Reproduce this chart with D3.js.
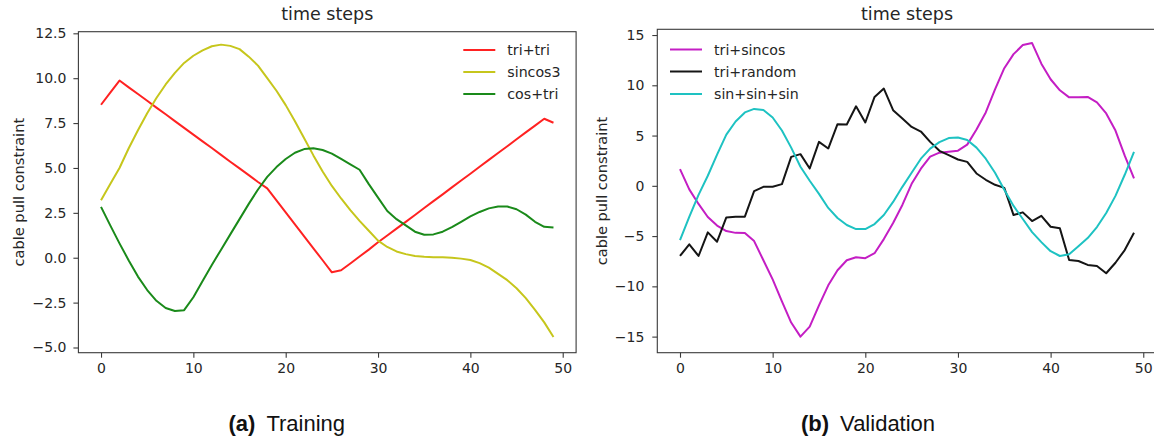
<!DOCTYPE html>
<html>
<head>
<meta charset="utf-8">
<script src="https://cdn.jsdelivr.net/npm/d3@7"></script>
<style>
  html, body { margin: 0; padding: 0; background: #fff; }
  svg { display: block; }
</style>
</head>
<body>
<svg id="chart" width="1154" height="439"></svg>
<script>
// ---------- data ----------
const xTicks = [0, 10, 20, 30, 40, 50];
const trainYTicks = [-5, -2.5, 0, 2.5, 5, 7.5, 10, 12.5];
const valYTicks = [-15, -10, -5, 0, 5, 10, 15];

const trainNames = ["tri+tri", "sincos3", "cos+tri"];
const valNames = ["tri+sincos", "tri+random", "sin+sin+sin"];

const triTri = [8.52, 9.2, 9.87, 9.49, 9.12, 8.74, 8.36, 7.99, 7.61, 7.23,
  6.86, 6.48, 6.11, 5.73, 5.35, 4.98, 4.60, 4.22, 3.86, 3.19,
  2.53, 1.86, 1.19, 0.52, -0.14, -0.81, -0.70, -0.32, 0.07, 0.45,
  0.86, 1.24, 1.62, 2.0, 2.38, 2.77, 3.15, 3.53, 3.92, 4.30,
  4.68, 5.07, 5.45, 5.83, 6.21, 6.60, 6.98, 7.36, 7.74, 7.52];

const sincos3 = [3.2, 4.1, 5.0, 6.1, 7.1, 8.05, 8.9, 9.65, 10.3, 10.85,
  11.25, 11.55, 11.78, 11.87, 11.8, 11.62, 11.2, 10.7, 10.0, 9.3,
  8.5, 7.6, 6.65, 5.7, 4.8, 4.0, 3.3, 2.65, 2.05, 1.5,
  0.95, 0.6, 0.35, 0.2, 0.1, 0.05, 0.03, 0.02, 0.0, -0.05,
  -0.13, -0.3, -0.55, -0.9, -1.25, -1.7, -2.25, -2.9, -3.6, -4.42];

const cosTri = [2.83, 1.8, 0.8, -0.15, -1.05, -1.8, -2.4, -2.8, -2.97, -2.92,
  -2.2, -1.3, -0.4, 0.45, 1.3, 2.15, 3.0, 3.8, 4.5, 5.05,
  5.5, 5.85, 6.05, 6.1, 6.0, 5.8, 5.5, 5.2, 4.9, 4.1,
  3.35, 2.6, 2.15, 1.8, 1.45, 1.28, 1.3, 1.45, 1.7, 2.0,
  2.3, 2.55, 2.75, 2.85, 2.85, 2.7, 2.4, 2.0, 1.72, 1.68];

const triSincos = [1.66, -0.35, -1.8, -3.1, -3.95, -4.5, -4.68, -4.7, -5.5, -7.4,
  -9.3, -11.5, -13.6, -15.0, -14.0, -11.9, -9.9, -8.4, -7.4, -7.1,
  -7.2, -6.7, -5.3, -3.7, -1.9, 0.2, 1.7, 2.9, 3.3, 3.4,
  3.5, 4.1, 5.6, 7.3, 9.6, 11.7, 13.1, 14.0, 14.2, 12.15,
  10.6, 9.5, 8.8, 8.8, 8.84, 8.3, 7.2, 5.5, 3.0, 0.73];

const triRandom = [-6.98, -5.82, -6.98, -4.63, -5.56, -3.14, -3.07, -3.07, -0.53, -0.1,
  -0.1, 0.17, 2.88, 3.15, 1.73, 4.37, 3.71, 6.13, 6.1, 7.91,
  6.3, 8.84, 9.67, 7.52, 6.69, 5.86, 5.4, 4.37, 3.48, 3.05,
  2.62, 2.38, 1.23, 0.6, 0.1, -0.2, -2.91, -2.64, -3.5, -2.98,
  -4.07, -4.23, -7.38, -7.48, -7.87, -7.97, -8.7, -7.65, -6.39, -4.67];

const sinSinSin = [-5.39, -3.1, -0.9, 1.0, 3.1, 5.1, 6.4, 7.3, 7.65, 7.55,
  6.8, 5.5, 3.8, 1.9, 0.5, -0.8, -2.2, -3.2, -3.9, -4.3,
  -4.3, -3.8, -2.9, -1.6, -0.1, 1.3, 2.7, 3.7, 4.35, 4.75,
  4.8, 4.55, 3.8, 2.7, 1.3, -0.4, -2.0, -3.3, -4.6, -5.6,
  -6.5, -6.98, -6.8, -6.0, -5.2, -4.1, -2.7, -1.0, 1.1, 3.38];

const trainColors = ["#ff2222", "#c6c61c", "#1a8a1a"];
const valColors = ["#c41ec4", "#151515", "#1ec2c2"];

// ---------- drawing ----------
const svg = d3.select("#chart");
const FONT = "'DejaVu Sans', sans-serif";
const minus = s => s.replace(/-/g, "\u2212");

function panel(opts) {
  const x = d3.scaleLinear().domain([-2.45, 51.45]).range(opts.xRange);
  const y = d3.scaleLinear().domain(opts.yDomain).range(opts.yRange);
  const g = svg.append("g");
  const [x0, x1] = opts.xRange;
  const [yb, yt] = opts.yRange;

  // series
  const line = d3.line().x((d, i) => x(i)).y(d => y(d));
  const clipId = "clip" + opts.id;
  svg.append("clipPath").attr("id", clipId).append("rect")
    .attr("x", x0).attr("y", yt).attr("width", x1 - x0).attr("height", yb - yt);
  const lg = g.append("g").attr("clip-path", `url(#${clipId})`);
  opts.series.forEach((s, k) => {
    lg.append("path").datum(s)
      .attr("fill", "none")
      .attr("stroke", opts.colors[k])
      .attr("stroke-width", 2)
      .attr("stroke-linejoin", "round")
      .attr("d", line);
  });

  // frame
  g.append("rect").attr("x", x0).attr("y", yt).attr("width", x1 - x0).attr("height", yb - yt)
    .attr("fill", "none").attr("stroke", "#3a3a3a").attr("stroke-width", 1.1);

  // axes
  const xAxis = d3.axisBottom(x).tickValues(xTicks).tickSize(5).tickPadding(5).tickFormat(d3.format("d"));
  const gx = g.append("g").attr("transform", `translate(0,${yb})`).call(xAxis);
  const yAxis = d3.axisLeft(y).tickValues(opts.yTicks).tickSize(5).tickPadding(opts.yPad)
    .tickFormat(d => minus(opts.yFmt(d)));
  const gy = g.append("g").attr("transform", `translate(${x0},0)`).call(yAxis);
  [gx, gy].forEach(a => {
    a.select(".domain").remove();
    a.selectAll(".tick line").attr("stroke", "#3a3a3a").attr("stroke-width", 1.1);
    a.selectAll(".tick text").attr("fill", "#262626").style("font-family", FONT).style("font-size", "14px");
  });

  // title
  g.append("text").attr("x", (x0 + x1) / 2).attr("y", 20)
    .attr("text-anchor", "middle").attr("fill", "#262626")
    .style("font-family", FONT).style("font-size", "17.5px").text("time steps");

  // y label
  g.append("text").attr("transform", `translate(${opts.ylabX},${(yb + yt) / 2}) rotate(-90)`)
    .attr("text-anchor", "middle").attr("dominant-baseline", "central").attr("fill", "#262626")
    .style("font-family", FONT).style("font-size", "14.6px").text("cable pull constraint");

  // legend
  opts.names.forEach((n, k) => {
    const ly = opts.legY[k];
    g.append("line").attr("x1", opts.legX).attr("x2", opts.legX + 32)
      .attr("y1", ly).attr("y2", ly)
      .attr("stroke", opts.colors[k]).attr("stroke-width", 2);
    g.append("text").attr("x", opts.legX + 44).attr("y", ly)
      .attr("dominant-baseline", "central").attr("fill", "#262626")
      .style("font-family", FONT).style("font-size", "14.2px").text(n);
  });

  // caption
  const cap = svg.append("text").attr("x", opts.capX).attr("y", 431)
    .attr("fill", "#111").style("font-family", "'Liberation Sans', Arial, sans-serif").style("font-size", "22px");
  cap.append("tspan").style("font-weight", "bold").text(opts.capLetter);
  cap.append("tspan").attr("dx", 11).text(opts.capText);
}

panel({
  id: "a",
  xRange: [78.4, 576.1],
  yRange: [352.7, 31.7],
  yDomain: [-5.29, 12.59],
  yTicks: trainYTicks,
  yFmt: d3.format(".1f"),
  yPad: 7,
  series: [triTri, sincos3, cosTri],
  colors: trainColors,
  names: trainNames,
  legX: 463.3,
  legY: [50, 72, 94],
  ylabX: 18,
  capX: 228.5,
  capLetter: "(a)",
  capText: "Training"
});

panel({
  id: "b",
  xRange: [657.3, 1156.7],
  yRange: [352.7, 29.3],
  yDomain: [-16.6, 15.57],
  yTicks: valYTicks,
  yFmt: d3.format("d"),
  yPad: 8,
  series: [triSincos, triRandom, sinSinSin],
  colors: valColors,
  names: valNames,
  legX: 670,
  legY: [49.5, 71.5, 94],
  ylabX: 601,
  capX: 801,
  capLetter: "(b)",
  capText: "Validation"
});
</script>
</body>
</html>
